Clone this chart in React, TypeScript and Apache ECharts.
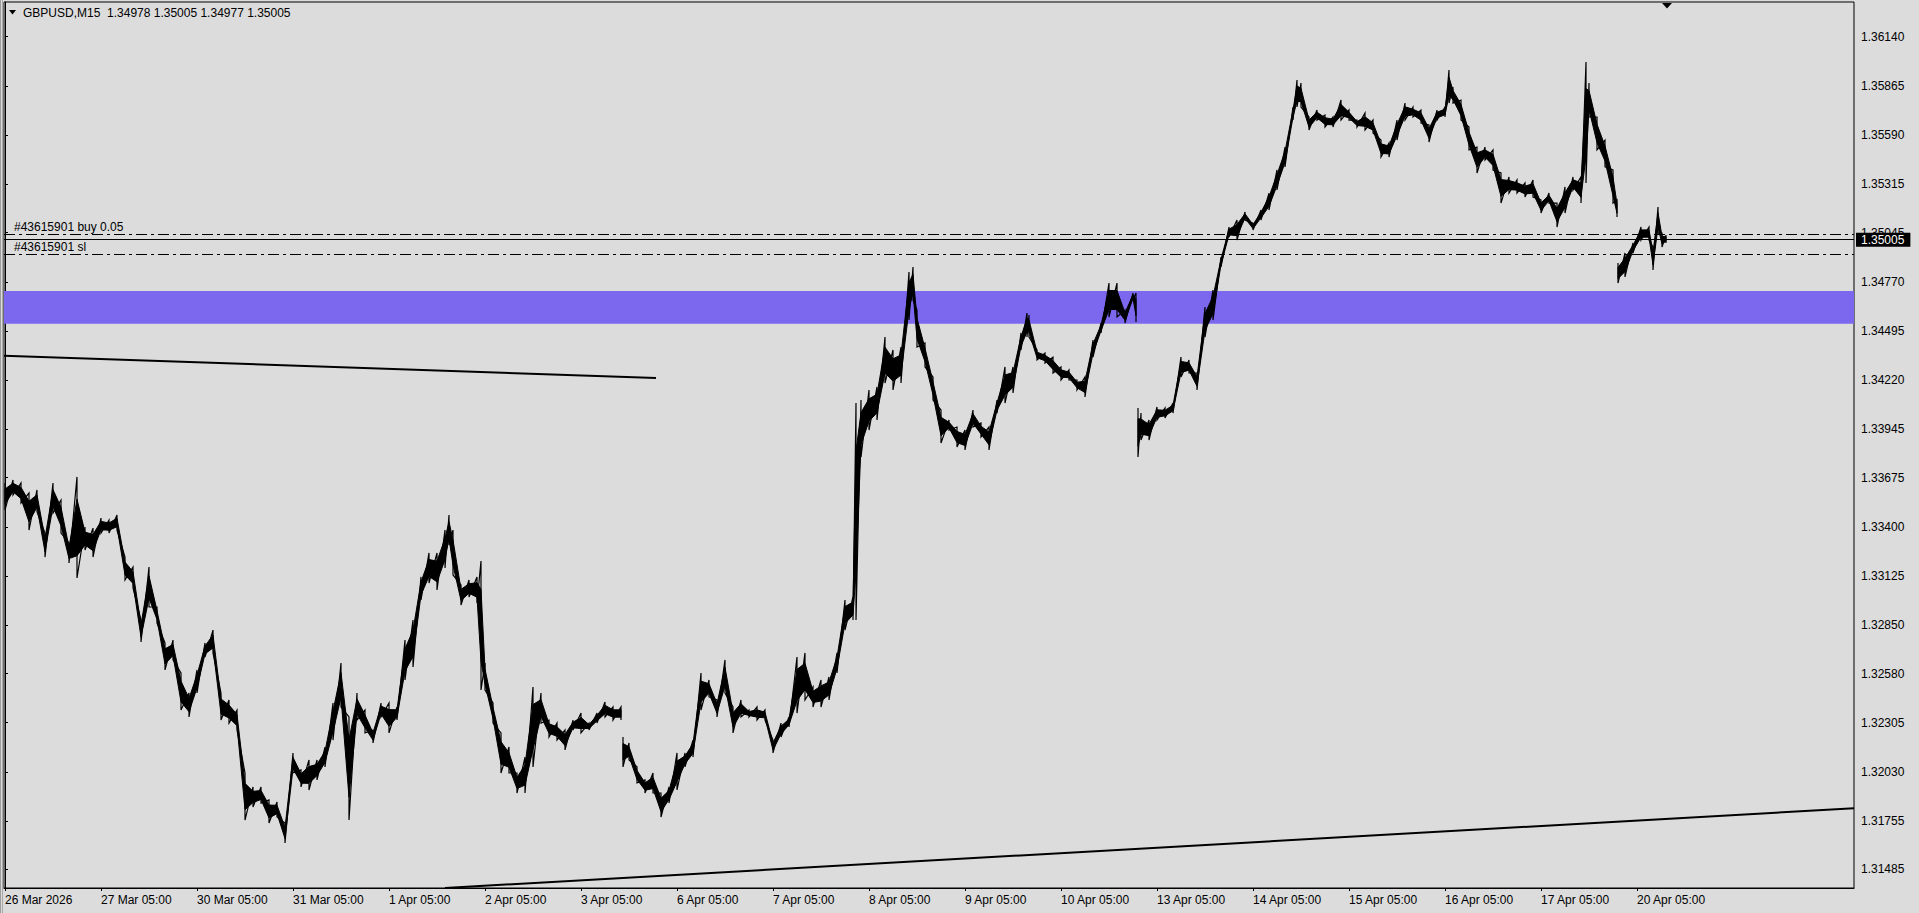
import React, { useEffect, useRef } from "react";
import * as echarts from "echarts";

// ---------- data ----------
const chartTitle = "GBPUSD,M15  1.34978 1.35005 1.34977 1.35005";
const dayLabels = [
  "26 Mar 2026", "27 Mar 05:00", "30 Mar 05:00", "31 Mar 05:00", "1 Apr 05:00", "2 Apr 05:00",
  "3 Apr 05:00", "6 Apr 05:00", "7 Apr 05:00", "8 Apr 05:00", "9 Apr 05:00", "10 Apr 05:00",
  "13 Apr 05:00", "14 Apr 05:00", "15 Apr 05:00", "16 Apr 05:00", "17 Apr 05:00", "20 Apr 05:00",
];
const barsPerDay = 96;
const priceTicks = [
  1.31485, 1.31755, 1.3203, 1.32305, 1.3258, 1.3285, 1.33125, 1.334, 1.33675,
  1.33945, 1.3422, 1.34495, 1.3477, 1.35045, 1.35315, 1.3559, 1.35865, 1.3614,
];
const firstBar = -1;
const lastAxisBar = 1849;
const priceMin = 1.31381;
const priceMax = 1.36334;

// sampled M15 bars (bar index from 26 Mar 05:00), sampled high / low
const barIdx = [
  0, 8, 16, 24, 32, 40, 48, 56, 64, 72, 80, 88, 96, 104, 112, 120, 128, 136, 144, 152, 160, 168, 176, 184,
  192, 200, 208, 216, 224, 232, 240, 248, 256, 264, 272, 280, 288, 296, 304, 312, 320, 328, 336, 344, 352,
  360, 368, 376, 384, 392, 400, 408, 416, 424, 432, 440, 444, 448, 456, 464, 472, 476, 480, 488, 496, 504,
  512, 520, 528, 536, 544, 552, 560, 568, 576, 584, 592, 600, 608, 616,
  618, 624, 632, 640, 648, 656, 664, 672, 680, 688, 696, 704, 712, 720, 728, 736, 744, 752, 760, 768, 776,
  784, 792, 800, 808, 816, 824, 832, 840, 848, 851, 856, 864, 872, 880, 888, 896, 904, 908, 912, 920, 928,
  936, 944, 952, 960, 968, 976, 984, 992, 1000, 1008, 1016, 1022, 1024, 1032, 1040, 1048, 1056, 1064, 1072,
  1080, 1088, 1096, 1104, 1112, 1120, 1128, 1131,
  1133, 1136, 1144, 1152, 1160, 1168, 1176, 1184, 1192, 1200, 1208, 1216, 1224, 1232, 1240, 1248, 1256,
  1264, 1272, 1280, 1288, 1292, 1296, 1304, 1312, 1320, 1328, 1336, 1344, 1352, 1360, 1368, 1376, 1384,
  1392, 1400, 1408, 1416, 1424, 1432, 1440, 1444, 1448, 1456, 1464, 1472, 1480, 1488, 1496, 1504, 1512,
  1520, 1528, 1536, 1544, 1552, 1560, 1568, 1576, 1581, 1584, 1592, 1600, 1608, 1612,
  1613, 1620, 1628, 1636, 1644, 1648, 1653, 1657, 1661,
];
const highs = [
  1.33645, 1.33662, 1.33645, 1.33589, 1.33606, 1.33365, 1.33645, 1.3355, 1.3331, 1.33679, 1.33399, 1.33393,
  1.33449, 1.33438, 1.33466, 1.33231, 1.33175, 1.32879, 1.33175, 1.32952, 1.32751, 1.32767, 1.32583, 1.32471,
  1.326, 1.32751, 1.32823, 1.32471, 1.32432, 1.32376, 1.32024, 1.31946, 1.31946, 1.31873, 1.31862, 1.31744,
  1.32136, 1.32041, 1.32097, 1.32097, 1.32169, 1.32415, 1.32639, 1.32337, 1.32471, 1.32376, 1.32264, 1.32415,
  1.32415, 1.32393, 1.32767, 1.32879, 1.3312, 1.33254, 1.33254, 1.33382, 1.33466, 1.33382, 1.33075, 1.33103,
  1.3312, 1.33209, 1.32639, 1.32415, 1.32248, 1.32169, 1.32024, 1.32113, 1.32505, 1.32471, 1.3232, 1.32303,
  1.32264, 1.3232, 1.32359, 1.32303, 1.32359, 1.32421, 1.32393, 1.32393,
  1.32225, 1.32192, 1.32058, 1.31985, 1.32024, 1.31912, 1.31946, 1.32136, 1.32136, 1.32208, 1.32583, 1.32544,
  1.32432, 1.32656, 1.32393, 1.32432, 1.32376, 1.32393, 1.32376, 1.32208, 1.32303, 1.32337, 1.32672, 1.32695,
  1.32505, 1.32544, 1.32561, 1.32695, 1.32991, 1.33008, 1.34092, 1.34109, 1.34165, 1.34182, 1.34461, 1.34389,
  1.34405, 1.34825, 1.34853, 1.34612, 1.34428, 1.34238, 1.34053, 1.33997, 1.33958, 1.33941, 1.34053, 1.3398,
  1.33958, 1.34109, 1.34294, 1.34294, 1.34484, 1.34595, 1.34584, 1.34389, 1.34372, 1.34349, 1.34294, 1.34277,
  1.34221, 1.34238, 1.34444, 1.34539, 1.34763, 1.34763, 1.34612, 1.34707, 1.34707,
  1.34064, 1.34036, 1.33997, 1.3407, 1.34064, 1.34092, 1.34349, 1.34333, 1.3426, 1.34629, 1.34724, 1.34908,
  1.35076, 1.35115, 1.3516, 1.35098, 1.35171, 1.35266, 1.35395, 1.35523, 1.35747, 1.35898, 1.35881, 1.35691,
  1.3573, 1.35702, 1.35691, 1.35786, 1.3573, 1.35674, 1.35713, 1.35674, 1.35562, 1.35546, 1.35674, 1.35769,
  1.35747, 1.3573, 1.35646, 1.3573, 1.35747, 1.35954, 1.35859, 1.35786, 1.35635, 1.35523, 1.35523, 1.35507,
  1.35378, 1.35356, 1.35339, 1.35322, 1.35339, 1.35227, 1.35266, 1.3521, 1.353, 1.35356, 1.35356, 1.35998,
  1.35881, 1.35691, 1.35562, 1.35395, 1.35227,
  1.34875, 1.34931, 1.34987, 1.35076, 1.35076, 1.34964, 1.35188, 1.35042, 1.35031,
];
const lows = [
  1.33494, 1.33578, 1.33533, 1.33382, 1.33483, 1.33231, 1.33477, 1.33365, 1.33198, 1.33114, 1.3327, 1.33231,
  1.33365, 1.33365, 1.33382, 1.33103, 1.33058, 1.32756, 1.32952, 1.32862, 1.326, 1.32656, 1.32376, 1.32337,
  1.32471, 1.32672, 1.32695, 1.3232, 1.32303, 1.32264, 1.31761, 1.31834, 1.31856, 1.31744, 1.31778, 1.31633,
  1.32024, 1.31946, 1.31929, 1.31985, 1.32058, 1.32208, 1.32393, 1.31761, 1.3232, 1.32248, 1.32192, 1.32337,
  1.32248, 1.3232, 1.32544, 1.32617, 1.32991, 1.33086, 1.33047, 1.3317, 1.33298, 1.33131, 1.32963, 1.33008,
  1.32974, 1.32488, 1.32488, 1.32303, 1.32024, 1.32024, 1.31912, 1.31912, 1.32058, 1.32303, 1.32225, 1.32208,
  1.32153, 1.32264, 1.32248, 1.32264, 1.32303, 1.32337, 1.3232, 1.3232,
  1.32058, 1.32097, 1.31968, 1.31912, 1.31912, 1.31778, 1.31856, 1.31929, 1.32058, 1.32113, 1.32376, 1.32449,
  1.32337, 1.32471, 1.32248, 1.32337, 1.32337, 1.3232, 1.3232, 1.32136, 1.32225, 1.32281, 1.32359, 1.32432,
  1.32393, 1.32393, 1.32432, 1.32583, 1.32823, 1.32879, 1.32879, 1.3379, 1.33941, 1.33997, 1.34204, 1.34165,
  1.34204, 1.34556, 1.34668, 1.34405, 1.34294, 1.34109, 1.33869, 1.33941, 1.33846, 1.3383, 1.33958, 1.33902,
  1.3383, 1.34036, 1.34092, 1.34148, 1.34389, 1.34461, 1.34461, 1.34333, 1.34316, 1.3426, 1.34221, 1.34221,
  1.34165, 1.34126, 1.34349, 1.34484, 1.34573, 1.34573, 1.34539, 1.34668, 1.34545,
  1.33791, 1.33885, 1.33885, 1.33997, 1.34008, 1.34036, 1.34238, 1.3426, 1.34165, 1.34461, 1.34556, 1.34853,
  1.3502, 1.35003, 1.35115, 1.35059, 1.35115, 1.35171, 1.35283, 1.35412, 1.35674, 1.35747, 1.35747, 1.35618,
  1.35674, 1.35635, 1.35635, 1.35674, 1.35674, 1.35635, 1.35618, 1.35602, 1.35467, 1.35467, 1.35562, 1.35674,
  1.35691, 1.35657, 1.35551, 1.35674, 1.35691, 1.35769, 1.35769, 1.35674, 1.35507, 1.35378, 1.35451, 1.35395,
  1.3521, 1.35266, 1.35266, 1.35244, 1.35244, 1.35154, 1.3521, 1.35076, 1.35154, 1.35283, 1.3521, 1.35322,
  1.35691, 1.35507, 1.35412, 1.3521, 1.35132,
  1.34763, 1.34797, 1.34931, 1.35003, 1.35003, 1.34836, 1.35042, 1.34964, 1.34987,
];
// first bar of each trading session after a weekend gap
const sessionStarts = [618, 1133, 1613];

const bidPrice = 1.35005;
const buyPrice = 1.35035;
const slPrice = 1.34924;
const buyLabel = "#43615901 buy 0.05";
const slLabel = "#43615901 sl";
const zoneTop = 1.34718;
const zoneBottom = 1.34536;
const trend1Bars = [-1, 651];
const trend1Prices = [1.34357, 1.34232];
const trend2Bars = [440, 1849];
const trend2Prices = [1.31381, 1.31827];

// ---------- helpers ----------
const FONT = "Liberation Sans";

function buildSegments() {
  const segs: { start: number; end: number }[] = [];
  let start = 0;
  for (let i = 1; i <= barIdx.length; i++) {
    if (i === barIdx.length || sessionStarts.includes(barIdx[i])) {
      segs.push({ start, end: i - 1 });
      start = i;
    }
  }
  return segs;
}

export default function App() {
  const ref = useRef<HTMLDivElement>(null);

  useEffect(() => {
    if (!ref.current) return;
    const chart = echarts.init(ref.current, null, { renderer: "svg" });
    const segments = buildSegments();
    const tickBars = dayLabels.map((_, i) => i * barsPerDay);
    const dash = [11, 4, 3, 4];

    chart.setOption({
      animation: false,
      backgroundColor: "#DCDCDC",
      textStyle: { fontFamily: FONT },
      grid: {
        left: 4,
        top: 2,
        width: 1850,
        height: 886,
        show: true,
        borderColor: "#000",
        borderWidth: 1,
        backgroundColor: "transparent",
        containLabel: false,
        outerBoundsMode: "none",
      },
      xAxis: {
        type: "value",
        min: firstBar,
        max: lastAxisBar,
        splitLine: { show: false },
        axisLine: { show: true, lineStyle: { color: "#000", width: 1 } },
        axisTick: { show: true, customValues: tickBars, length: 3, lineStyle: { color: "#000" } },
        axisLabel: {
          customValues: tickBars,
          formatter: (v: number) => dayLabels[Math.round(v / barsPerDay)] ?? "",
          align: "left",
          margin: 6,
          color: "#000",
          fontSize: 12,
          fontFamily: FONT,
        },
      },
      yAxis: {
        type: "value",
        position: "right",
        min: priceMin,
        max: priceMax,
        splitLine: { show: false },
        axisLine: { show: true, lineStyle: { color: "#000", width: 1 } },
        axisTick: { show: true, customValues: priceTicks, length: 3, lineStyle: { color: "#000" } },
        axisLabel: {
          customValues: priceTicks,
          formatter: (v: number) => v.toFixed(5),
          margin: 7,
          color: "#000",
          fontSize: 12,
          fontFamily: FONT,
        },
      },
      series: [
        {
          type: "line",
          name: "zone",
          data: [],
          silent: true,
          markArea: {
            silent: true,
            z: 1,
            itemStyle: { color: "#7B68EE", opacity: 1 },
            label: { show: false },
            data: [[{ yAxis: zoneTop }, { yAxis: zoneBottom }]],
          },
        },
        {
          type: "custom",
          name: "GBPUSD",
          z: 3,
          silent: true,
          data: segments.map((s) => [barIdx[s.start], highs[s.start]]),
          renderItem: (params: any, api: any) => {
            const seg = segments[params.dataIndex];
            const coreTop: number[][] = [];
            const coreBot: number[][] = [];
            const zig: number[][] = [];
            for (let i = seg.start; i <= seg.end; i++) {
              const ph = api.coord([barIdx[i], highs[i]]);
              const pl = api.coord([barIdx[i], lows[i]]);
              const mid = (ph[1] + pl[1]) / 2;
              const half = Math.max(1, (pl[1] - ph[1]) * 0.28);
              coreTop.push([ph[0], mid - half]);
              coreBot.push([ph[0], mid + half]);
              zig.push(ph, pl);
            }
            return {
              type: "group",
              children: [
                {
                  type: "polygon",
                  shape: { points: coreTop.concat(coreBot.reverse()) },
                  style: { fill: "#000", stroke: "#000", lineWidth: 1 },
                },
                {
                  type: "polyline",
                  shape: { points: zig },
                  style: { fill: "none", stroke: "#000", lineWidth: 1.2, lineJoin: "miter" },
                },
              ],
            };
          },
        },
        {
          type: "line",
          name: "trend1",
          z: 4,
          silent: true,
          symbol: "none",
          clip: true,
          lineStyle: { color: "#000", width: 2 },
          data: trend1Bars.map((b, i) => [b, trend1Prices[i]]),
          markLine: {
            silent: true,
            symbol: ["none", "none"],
            precision: 5,
            z: 5,
            data: [
              {
                yAxis: buyPrice,
                lineStyle: { color: "#000", width: 1, type: dash },
                label: {
                  show: true,
                  position: "insideStartTop",
                  formatter: () => buyLabel,
                  color: "#000",
                  fontSize: 12,
                  fontFamily: FONT,
                  distance: [10, 1],
                },
              },
              {
                yAxis: slPrice,
                lineStyle: { color: "#000", width: 1, type: dash },
                label: {
                  show: true,
                  position: "insideStartTop",
                  formatter: () => slLabel,
                  color: "#000",
                  fontSize: 12,
                  fontFamily: FONT,
                  distance: [10, 1],
                },
              },
              {
                yAxis: bidPrice,
                lineStyle: { color: "#000", width: 1, type: "solid" },
                label: {
                  show: true,
                  position: "end",
                  formatter: () => bidPrice.toFixed(5),
                  color: "#fff",
                  backgroundColor: "#000",
                  padding: [1, 6, 1, 5],
                  fontSize: 12,
                  lineHeight: 12,
                  fontFamily: FONT,
                  distance: 2,
                },
              },
            ],
          },
        },
        {
          type: "line",
          name: "trend2",
          z: 4,
          silent: true,
          symbol: "none",
          clip: true,
          lineStyle: { color: "#000", width: 2 },
          data: trend2Bars.map((b, i) => [b, trend2Prices[i]]),
        },
      ],
      graphic: [
        { type: "rect", id: "frameA", left: 0, top: 0, shape: { x: 0, y: 0, width: 1, height: 913 }, style: { fill: "#9c9c9c" }, silent: true },
        { type: "rect", id: "frameB", left: 2, top: 0, shape: { x: 0, y: 0, width: 1, height: 913 }, style: { fill: "#a8a8a8" }, silent: true },
        {
          type: "polygon",
          id: "titleArrow",
          shape: { points: [[9, 10], [16, 10], [12.5, 14.5]] },
          style: { fill: "#000" },
          silent: true,
        },
        {
          type: "text",
          id: "title",
          x: 23,
          y: 13,
          style: {
            text: chartTitle,
            fill: "#000",
            font: `12px "${FONT}"`,
            verticalAlign: "middle",
          },
          silent: true,
        },
      ],
    });

    // chart-shift marker above the last bar
    const lastBar = barIdx[barIdx.length - 1];
    const px = chart.convertToPixel({ xAxisIndex: 0 }, lastBar + 1) as number;
    chart.setOption({
      graphic: [
        {
          type: "polygon",
          id: "shiftMarker",
          shape: { points: [[px - 5, 3], [px + 5, 3], [px, 8.5]] },
          style: { fill: "#000" },
          silent: true,
        },
      ],
    });

    return () => chart.dispose();
  }, []);

  return (
    <div style={{ position: "fixed", left: 0, top: 0, width: 1919, height: 913, background: "#DCDCDC" }}>
      <div ref={ref} style={{ width: 1919, height: 913 }} />
    </div>
  );
}
